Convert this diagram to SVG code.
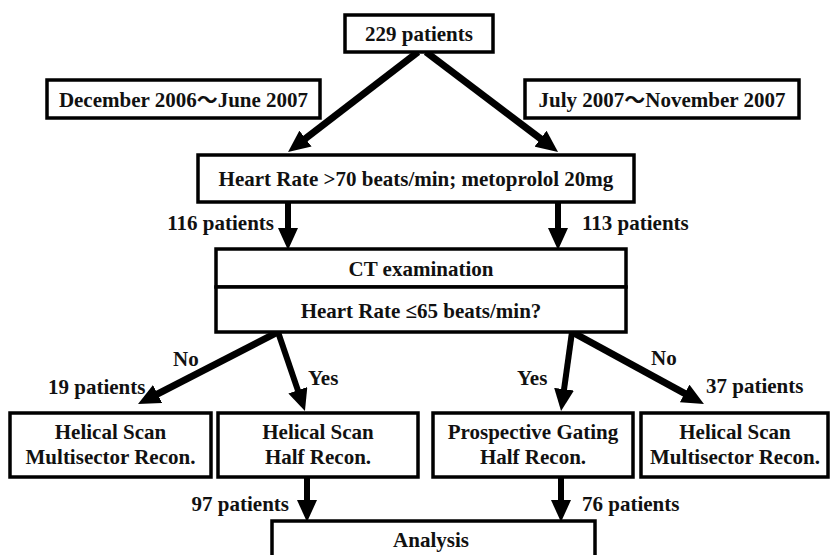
<svg xmlns="http://www.w3.org/2000/svg" width="830" height="555" viewBox="0 0 830 555">
<style>
.box{fill:#fff;stroke:#000;stroke-width:3.5}
.t{font-family:"Liberation Serif","Times New Roman","Noto Sans CJK JP",serif;font-weight:bold;font-size:21px;fill:#111}
.c{text-anchor:middle}
.e{text-anchor:end}
.arr{stroke:#000;stroke-width:6;fill:none;marker-end:url(#ah)}
</style>
<defs>
<marker id="ah" markerUnits="userSpaceOnUse" markerWidth="24" markerHeight="20" viewBox="0 0 24 20" refX="2" refY="10" orient="auto">
<path d="M0,0 L22,10 L0,20 z" fill="#000"/>
</marker>
</defs>
<rect width="830" height="555" fill="#fff"/>
<g id="connectors">
<line class="arr" style="stroke-width:7" x1="418" y1="52" x2="303.9" y2="139.8"/>
<line class="arr" style="stroke-width:7" x1="426" y1="52" x2="542.1" y2="139.9"/>
<line class="arr" x1="288" y1="202" x2="288" y2="230"/>
<line class="arr" x1="558" y1="202" x2="558" y2="230"/>
<line class="arr" style="stroke-width:7" x1="278" y1="332" x2="155.8" y2="394.9"/>
<line class="arr" x1="278" y1="332" x2="298.5" y2="392.1"/>
<line class="arr" x1="572" y1="332" x2="563.8" y2="391.2"/>
<line class="arr" style="stroke-width:7" x1="572" y1="332" x2="686.4" y2="394.4"/>
<line class="arr" x1="307" y1="477" x2="307" y2="502"/>
<line class="arr" x1="561" y1="477" x2="561" y2="502"/>
</g>
<g id="n229">
<rect class="box" x="345" y="15" width="148" height="37"/>
<text class="t c" x="419" y="41">229 patients</text>
</g>
<g id="period1">
<rect class="box" x="47" y="80" width="273" height="38"/>
<text class="t c" x="183.5" y="107">December 2006～June 2007</text>
</g>
<g id="period2">
<rect class="box" x="525" y="80" width="274" height="38"/>
<text class="t c" x="662" y="107">July 2007～November 2007</text>
</g>
<g id="hr70">
<rect class="box" x="198" y="155" width="436" height="47"/>
<text class="t c" x="416" y="186">Heart Rate &gt;70 beats/min; metoprolol 20mg</text>
</g>
<g id="lbl116"><text class="t e" x="274" y="230">116 patients</text></g>
<g id="lbl113"><text class="t" x="582" y="230">113 patients</text></g>
<g id="ct">
<rect class="box" x="216" y="249" width="410" height="38"/>
<text class="t c" x="421" y="276">CT examination</text>
</g>
<g id="hr65">
<rect class="box" x="216" y="287" width="410" height="45"/>
<text class="t c" x="421" y="318">Heart Rate ≤65 beats/min?</text>
</g>
<g id="branchlabels">
<text class="t" x="173" y="366">No</text>
<text class="t" x="308" y="385">Yes</text>
<text class="t" x="48" y="394">19 patients</text>
<text class="t" x="517" y="385">Yes</text>
<text class="t" x="651" y="365">No</text>
<text class="t" x="706" y="393">37 patients</text>
</g>
<g id="box1">
<rect class="box" x="10" y="413" width="201" height="64"/>
<text class="t c" x="110.5" y="439">Helical Scan</text>
<text class="t c" x="110.5" y="464">Multisector Recon.</text>
</g>
<g id="box2">
<rect class="box" x="218" y="413" width="200" height="64"/>
<text class="t c" x="318" y="439">Helical Scan</text>
<text class="t c" x="318" y="464">Half Recon.</text>
</g>
<g id="box3">
<rect class="box" x="433" y="413" width="200" height="64"/>
<text class="t c" x="533" y="439">Prospective Gating</text>
<text class="t c" x="533" y="464">Half Recon.</text>
</g>
<g id="box4">
<rect class="box" x="641" y="413" width="187" height="64"/>
<text class="t c" x="735" y="439">Helical Scan</text>
<text class="t c" x="735" y="464">Multisector Recon.</text>
</g>
<g id="lbl97"><text class="t e" x="289" y="511">97 patients</text></g>
<g id="lbl76"><text class="t" x="582" y="511">76 patients</text></g>
<g id="analysis">
<rect class="box" x="272" y="521" width="323" height="50"/>
<text class="t c" x="431" y="547">Analysis</text>
</g>
</svg>
